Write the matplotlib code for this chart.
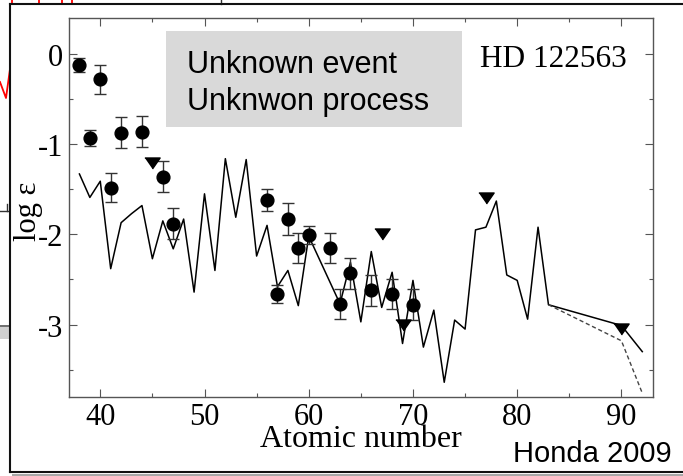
import matplotlib
matplotlib.use('Agg')
import matplotlib.pyplot as plt
from matplotlib.patches import Rectangle
from matplotlib.ticker import MultipleLocator

plt.rcParams['axes.unicode_minus'] = False
plt.rcParams['font.family'] = 'Liberation Serif'

W, H = 683, 477

# observed abundances (filled circles with error bars)
obs_z = [38, 39, 40, 41, 42, 44, 46, 47, 56, 57, 58, 59, 60, 62, 63, 64, 66, 68, 70]
obs_y = [-0.12, -0.93, -0.28, -1.48, -0.87, -0.86, -1.36, -1.88, -1.62, -2.66,
         -1.83, -2.15, -2.01, -2.15, -2.77, -2.43, -2.62, -2.66, -2.78]
obs_err = [0.08, 0.09, 0.16, 0.16, 0.17, 0.17, 0.17, 0.17, 0.12, 0.10,
           0.18, 0.17, 0.10, 0.17, 0.17, 0.17, 0.17, 0.17, 0.17]

# upper limits (down triangles)
lim_z = [45, 67, 69, 77, 90]
lim_y = [-1.21, -2.00, -3.01, -1.60, -3.05]

# model pattern (solid) and the alternative tail (dashed)
model_z = list(range(38, 84)) + [90, 92]
model_y = [-1.33, -1.59, -1.41, -2.38, -1.87, -1.77, -1.68, -2.27, -1.85, -2.16,
           -1.83, -2.64, -1.55, -2.40, -1.16, -1.81, -1.17, -2.24, -1.90, -2.58,
           -2.40, -2.79, -2.02, -2.27, -2.52, -2.77, -2.31, -2.97, -2.19, -2.81,
           -2.42, -3.21, -2.51, -3.25, -2.84, -3.64, -2.95, -3.05, -1.95, -1.92,
           -1.63, -2.45, -2.51, -2.94, -1.92, -2.78, -3.01, -3.30]
alt_z = [83, 90, 92]
alt_y = [-2.78, -3.18, -3.76]

fig = plt.figure(figsize=(W / 100, H / 100), dpi=100)

# pixel-space layer behind the chart (slide frame and leftovers)
bg = fig.add_axes([0, 0, 1, 1], zorder=0)
bg.set_xlim(0, W)
bg.set_ylim(H, 0)
bg.axis('off')
for x in [12, 39, 62, 72]:
    bg.plot([x, x], [0, 5], color='red', lw=1.3)
bg.plot([0, 6, 10], [83, 99, 70], color='red', lw=1.3)
bg.plot([221, 221], [0, 5], color='#333333', lw=1)
bg.plot([0, 8], [212, 212], color='#333333', lw=1)
bg.plot([7, 7], [205, 212], color='#333333', lw=1)
bg.plot([0, 10], [327, 327], color='#555555', lw=1.2)
bg.add_patch(Rectangle((0, 328), 10, 12, color='#d0d0d0', lw=0))
bg.add_patch(Rectangle((12, 474.5), W, 3, color='#a8a8a8', lw=0))
bg.plot([10, 10], [5, 473], color='#111111', lw=1.5)
bg.plot([10, W], [5, 5], color='#111111', lw=1.5)
bg.plot([10, W], [473, 473], color='#111111', lw=1.5)

# main chart
ax = fig.add_axes([69 / W, 1 - 397.7 / H, (652.7 - 69) / W, (397.7 - 19) / H], zorder=1)
ax.plot(model_z, model_y, color='black', lw=1.1)
ax.plot(alt_z, alt_y, color='#444444', lw=1, dashes=(3, 2))
ax.errorbar(obs_z, obs_y, yerr=obs_err, fmt='o', color='black', ms=9.2,
            ecolor='#333333', elinewidth=1, capsize=4.5, capthick=1)
ax.plot(lim_z, lim_y, ls='none', color='black', ms=11,
        marker=[(-1, 0.72), (1, 0.72), (0, -0.72)])

ax.set_xlim(37, 93)
ax.set_ylim(-3.8, 0.4)
ax.xaxis.set_major_locator(MultipleLocator(10))
ax.xaxis.set_minor_locator(MultipleLocator(5))
ax.yaxis.set_major_locator(MultipleLocator(1))
ax.yaxis.set_minor_locator(MultipleLocator(0.5))
ax.tick_params(which='both', direction='in', top=True, right=True,
               color='#555555', labelsize=22, pad=4)
ax.tick_params(which='major', length=6, width=0.8)
ax.tick_params(which='minor', length=3, width=0.8)
for s in ax.spines.values():
    s.set_color('#555555')
    s.set_linewidth(1)

ax.set_xlabel('Atomic number', fontsize=23, labelpad=-5)
ax.set_ylabel('log ε', fontsize=22)
ax.yaxis.set_label_coords(-0.045, 0.493)

# pixel-space layer in front (box and notes)
fg = fig.add_axes([0, 0, 1, 1], zorder=2)
fg.set_xlim(0, W)
fg.set_ylim(H, 0)
fg.axis('off')
fg.patch.set_alpha(0)
fg.add_patch(Rectangle((166, 32), 295.7, 96, color='#d9d9d9', lw=0))
fg.text(187, 73, 'Unknown event', fontsize=22, family='Liberation Sans', va='baseline')
fg.text(187, 110, 'Unknwon process', fontsize=22, family='Liberation Sans', va='baseline')
fg.text(627, 67, 'HD 122563', fontsize=22.5, ha='right', va='baseline')
fg.text(672, 462, 'Honda 2009', fontsize=21, family='Liberation Sans',
        ha='right', va='baseline')

fig.savefig('out.png', dpi=100)
